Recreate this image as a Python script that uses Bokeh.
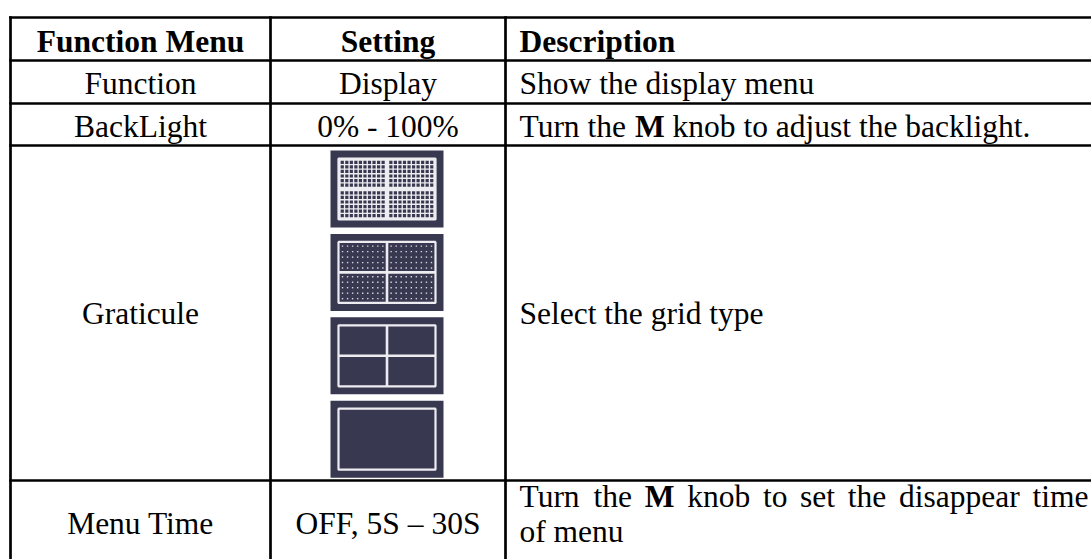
from bokeh.plotting import figure
from bokeh.models import Range1d
from bokeh.core.properties import value
from bokeh.embed import file_html
from bokeh.resources import INLINE

# ---------------- table content ----------------
header = ["Function Menu", "Setting", "Description"]
function_menu = ["Function", "BackLight", "Graticule", "Menu Time"]
setting = ["Display", "0% - 100%", "", "OFF, 5S \u2013 30S"]
graticule_types = ["dense", "grid", "cross", "frame"]
# description lines: words/runs, "*x*" marks bold
description = [
    [["Show the display menu"]],
    [["Turn the", "*M*", "knob to adjust the backlight."]],
    [["Select the grid type"]],
    [["Turn", "the", "*M*", "knob", "to", "set", "the", "disappear", "time"], ["of menu"]],
]

# ---------------- layout ----------------
col_x = [10, 270, 505, 1095]
row_y = [17, 60, 103, 145, 480, 575]
FS = 31.5
MID = 0.3375 * FS          # baseline -> middle of em box
header_base = 51.5
row_base = [94, 137, 324, 534]
menu_time_lines = [507, 542]
FONT = value("Liberation Serif")
desc_x0 = 519
desc_xr = 1088

REG = dict(a=444, b=500, c=444, d=500, e=444, f=333, g=500, h=500, i=278, j=278,
           k=500, l=278, m=778, n=500, o=500, p=500, q=500, r=333, s=389, t=278,
           u=500, v=500, w=722, x=500, y=500, z=444)
REG.update({" ": 250, ".": 250, "T": 611, "M": 889, "S": 556})
BOLD = {"M": 944, " ": 250}


def tw(s, bold=False):
    tab = BOLD if bold else REG
    return sum(tab.get(ch, 500) for ch in s) * FS / 1000.0


p = figure(width=1091, height=559, x_range=Range1d(0, 1091), y_range=Range1d(559, 0),
           min_border=0, toolbar_location=None, output_backend="svg",
           x_axis_location=None, y_axis_location=None)
p.grid.visible = False
p.outline_line_color = None
p.background_fill_color = "white"
p.border_fill_color = "white"

DARK = "#383851"
LIGHT = "#ededf1"

# ---------------- graticule icons ----------------
cx = (col_x[1] + col_x[2]) / 2 - 1
iw, ih = 113, 77
dark_q = dict(l=[], r=[], t=[], b=[])
sq_dark = dict(l=[], r=[], t=[], b=[])
dots = dict(l=[], r=[], t=[], b=[])
frames = dict(l=[], r=[], t=[], b=[], fill=[])
cross = dict(x0=[], y0=[], x1=[], y1=[])


def add(d, l, r, t, b):
    d["l"].append(l); d["r"].append(r); d["t"].append(t); d["b"].append(b)


for i, kind in enumerate(graticule_types):
    top = row_y[3] + 5 + i * 83.4
    L, R, B = cx - iw / 2, cx + iw / 2, top + ih
    add(dark_q, L, R, top, B)
    l, r, t, b = L + 8, R - 8, top + 8, B - 8
    frames["l"].append(l); frames["r"].append(r); frames["t"].append(t); frames["b"].append(b)
    frames["fill"].append(LIGHT if kind == "dense" else DARK)
    mx, my = (l + r) / 2, (t + b) / 2
    if kind in ("dense", "grid", "cross"):
        cross["x0"] += [mx, l]; cross["y0"] += [t, my]
        cross["x1"] += [mx, r]; cross["y1"] += [b, my]
    quads = [(l + 1.5, mx - 1.6, t + 1.5, my - 1.6), (mx + 1.6, r - 1.5, t + 1.5, my - 1.6),
             (l + 1.5, mx - 1.6, my + 1.6, b - 1.5), (mx + 1.6, r - 1.5, my + 1.6, b - 1.5)]
    for (ql, qr, qt, qb) in quads:
        if kind == "dense":
            nc, nr = 10, 6
            pw, ph = (qr - ql) / nc, (qb - qt) / nr
            for a in range(nc):
                for c in range(nr):
                    x = ql + (a + 0.5) * pw
                    y = qt + (c + 0.5) * ph
                    add(sq_dark, x - 1.6, x + 1.6, y - 1.6, y + 1.6)
        elif kind == "grid":
            nc, nr = 9, 5
            pw, ph = (qr - ql) / nc, (qb - qt) / nr
            for a in range(nc):
                for c in range(nr):
                    x = ql + (a + 0.5) * pw
                    y = qt + (c + 0.5) * ph
                    add(dots, x - 0.7, x + 0.7, y - 0.7, y + 0.7)

p.quad(left=dark_q["l"], right=dark_q["r"], top=dark_q["t"], bottom=dark_q["b"],
       fill_color=DARK, line_color=None)
p.quad(left=frames["l"], right=frames["r"], top=frames["t"], bottom=frames["b"],
       fill_color=frames["fill"], line_color=LIGHT, line_width=2.2)
p.segment(x0=cross["x0"], y0=cross["y0"], x1=cross["x1"], y1=cross["y1"],
          line_color=LIGHT, line_width=2.6)
p.quad(left=sq_dark["l"], right=sq_dark["r"], top=sq_dark["t"], bottom=sq_dark["b"],
       fill_color=DARK, line_color=None)
p.quad(left=dots["l"], right=dots["r"], top=dots["t"], bottom=dots["b"],
       fill_color="#d8d8e2", line_color=None)

# ---------------- table rules ----------------
hx0, hy0, hx1, hy1 = [], [], [], []
for y in row_y:
    hx0.append(col_x[0]); hx1.append(col_x[-1]); hy0.append(y); hy1.append(y)
for x in col_x:
    hx0.append(x); hx1.append(x); hy0.append(row_y[0]); hy1.append(row_y[-1])
p.segment(x0=hx0, y0=hy0, x1=hx1, y1=hy1, line_color="black", line_width=2.7,
          line_cap="square")

# ---------------- text ----------------
c1 = (col_x[0] + col_x[1]) / 2
c2 = (col_x[1] + col_x[2]) / 2
common = dict(text_font=FONT, text_font_size=f"{FS}px", text_color="black",
              text_baseline="middle")

p.text(x=[c1, c2], y=[header_base - MID] * 2, text=header[:2], text_align="center",
       text_font_style="bold", **common)
p.text(x=[desc_x0], y=[header_base - MID], text=[header[2]], text_align="left",
       text_font_style="bold", **common)

p.text(x=[c1] * 4, y=[b - MID for b in row_base], text=function_menu,
       text_align="center", **common)
sx, sy, st = [], [], []
for s, yb in zip(setting, row_base):
    if s:
        sx.append(c2); sy.append(yb - MID); st.append(s)
p.text(x=sx, y=sy, text=st, text_align="center", **common)

nx, ny, nt = [], [], []
bx, by, bt = [], [], []
for ri, lines in enumerate(description):
    if len(lines) == 1:
        ybs = [row_base[ri]]
    else:
        ybs = menu_time_lines
    for li, (runs, yb) in enumerate(zip(lines, ybs)):
        widths = []
        for run in runs:
            bold = run.startswith("*")
            txt = run.strip("*")
            widths.append(tw(txt, bold))
        justify = len(lines) > 1 and li < len(lines) - 1
        if justify:
            gap = (desc_xr - desc_x0 - sum(widths)) / (len(runs) - 1)
        else:
            gap = tw(" ")
        x = desc_x0
        for run, w in zip(runs, widths):
            if run.startswith("*"):
                bx.append(x); by.append(yb - MID); bt.append(run.strip("*"))
            else:
                nx.append(x); ny.append(yb - MID); nt.append(run)
            x += w + gap

p.text(x=nx, y=ny, text=nt, text_align="left", **common)
p.text(x=bx, y=by, text=bt, text_align="left", text_font_style="bold", **common)

open("out.html", "w").write(file_html(p, INLINE))
